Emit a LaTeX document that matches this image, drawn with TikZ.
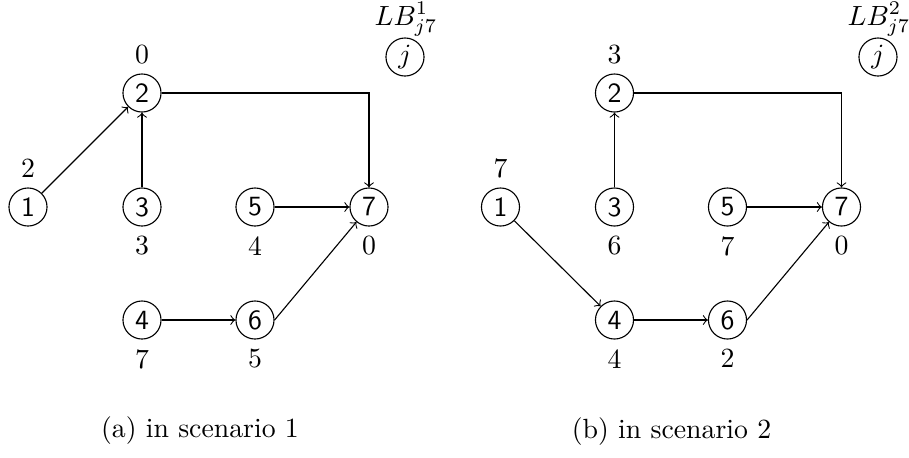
\documentclass[tikz,border=0pt]{standalone}
\begin{document}
\begin{tikzpicture}[x=0.36pt, y=-0.36pt,
  vtx/.style={circle, draw, minimum size=13.7pt, inner sep=0pt, font=\sffamily\normalsize},
  edge/.style={->, line width=0.4pt},
  captext/.style={font=\normalsize}]
\useasboundingbox (0,0) rectangle (909,457);
% left graph
\node[vtx, label=above:2] (n1) at (28,207) {1};
\node[vtx, label=above:0] (n2) at (142,93) {2};
\node[vtx, label=below:3] (n3) at (142,207) {3};
\node[vtx, label=below:4] (n5) at (255,207) {5};
\node[vtx, label=below:0] (n7) at (369,207) {7};
\node[vtx, label=below:7] (n4) at (142,320) {4};
\node[vtx, label=below:5] (n6) at (255,320) {6};
\node[vtx, font=\normalsize] (lj) at (405,57) {$j$};
\node[inner sep=0pt, anchor=base] (lbj) at (406,25) {$LB^1_{j7}$};
\draw[edge] (n1) -- (n2);
\draw[edge] (n3) -- (n2);
\draw[edge] (n2) -| (n7);
\draw[edge] (n5) -- (n7);
\draw[edge] (n4) -- (n6);
\draw[edge] (n6.east) -- (n7);
\node[captext] (ca) at (200,431) {(a) in scenario 1};
% right graph
\node[vtx, label=above:7] (m1) at (500.5,207) {1};
\node[vtx, label=above:3] (m2) at (614.5,93) {2};
\node[vtx, label=below:6] (m3) at (614.5,207) {3};
\node[vtx, label=below:7] (m5) at (727.5,207) {5};
\node[vtx, label=below:0] (m7) at (841.5,207) {7};
\node[vtx, label=below:4] (m4) at (614.5,320) {4};
\node[vtx, label=below:2] (m6) at (727.5,320) {6};
\node[vtx, font=\normalsize] (mj) at (878,57) {$j$};
\node[inner sep=0pt, anchor=base] (mbj) at (879,25) {$LB^2_{j7}$};
\draw[edge] (m3) -- (m2);
\draw[edge] (m2) -| (m7);
\draw[edge] (m5) -- (m7);
\draw[edge] (m1) -- (m4);
\draw[edge] (m4) -- (m6);
\draw[edge] (m6.east) -- (m7);
\node[captext] (cb) at (671.5,432) {(b) in scenario 2};
\end{tikzpicture}
\end{document}
